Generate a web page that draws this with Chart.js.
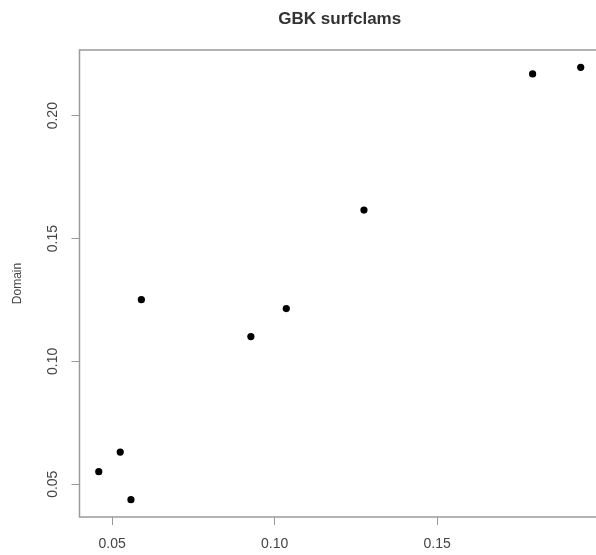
<!DOCTYPE html>
<html>
<head>
<meta charset="utf-8">
<script src="https://cdn.jsdelivr.net/npm/chart.js@4"></script>
<style>
  html, body { margin: 0; padding: 0; background: #fff; overflow: hidden; }
  #wrap { width: 596px; height: 555px; overflow: hidden; }
  canvas { display: block; }
</style>
</head>
<body>
<div id="wrap"><canvas id="c" width="620" height="555"></canvas></div>
<script>
// Survey comparison for Georges Bank surfclams
const xValues = [0.0459, 0.0525, 0.0558, 0.0590, 0.0927, 0.1036, 0.1275, 0.1794, 0.1942];
const yValues = [0.0551, 0.0631, 0.0437, 0.1251, 0.1101, 0.1215, 0.1616, 0.2170, 0.2197];
const xTickValues = [0.05, 0.10, 0.15];
const yTickValues = [0.05, 0.10, 0.15, 0.20];
const titleText = 'GBK surfclams';
const yAxisLabel = 'Domain';

// axis limits padded by 4% of the data range on each side
function paddedRange(vals) {
  const lo = Math.min(...vals), hi = Math.max(...vals);
  const pad = (hi - lo) * 0.04;
  return [lo - pad, hi + pad];
}
const [xMin, xMax] = paddedRange(xValues);
const [yMin, yMax] = paddedRange(yValues);

const points = xValues.map((x, i) => ({ x: x, y: yValues[i] }));

const FONT = '"Liberation Sans", Arial, Helvetica, sans-serif';
const BOX = '#9a9a9a';
const TEXT = '#444';

const framePlugin = {
  id: 'frame',
  afterDraw(chart) {
    const { ctx, chartArea: a } = chart;
    ctx.save();
    // plot box
    ctx.strokeStyle = BOX;
    ctx.lineWidth = 1.5;
    ctx.strokeRect(a.left, a.top, a.right - a.left, a.bottom - a.top);
    // rotated y tick labels
    const ys = chart.scales.y;
    ctx.fillStyle = TEXT;
    ctx.font = '14px ' + FONT;
    ctx.textAlign = 'center';
    ctx.textBaseline = 'middle';
    ys.ticks.forEach(t => {
      const py = ys.getPixelForValue(t.value);
      ctx.save();
      ctx.translate(53, py);
      ctx.rotate(-Math.PI / 2);
      ctx.fillText(t.value.toFixed(2), 0, 0);
      ctx.restore();
    });
    // main title centred over the plot region
    ctx.fillStyle = '#333';
    ctx.font = 'bold 17px ' + FONT;
    ctx.fillText(titleText, (a.left + a.right) / 2, 19);
    ctx.restore();
  }
};

new Chart(document.getElementById('c'), {
  type: 'scatter',
  data: {
    datasets: [{
      data: points,
      backgroundColor: '#000',
      borderColor: '#000',
      pointRadius: 3.6,
      pointHoverRadius: 3.6,
      borderWidth: 0
    }]
  },
  options: {
    responsive: false,
    animation: false,
    devicePixelRatio: 1,
    layout: { padding: { top: 50, right: 20, left: 0, bottom: 0 } },
    plugins: { legend: { display: false }, tooltip: { enabled: false }, title: { display: false } },
    scales: {
      x: {
        type: 'linear',
        min: xMin,
        max: xMax,
        afterBuildTicks: s => { s.ticks = xTickValues.map(v => ({ value: v })); },
        afterFit: s => { s.height = 38; },
        grid: { drawOnChartArea: false, drawTicks: true, tickLength: 8, color: BOX, lineWidth: 1 },
        border: { display: false },
        ticks: {
          padding: 11,
          color: TEXT,
          font: { family: FONT, size: 14 },
          maxRotation: 0,
          minRotation: 0,
          callback: v => Number(v).toFixed(2)
        }
      },
      y: {
        type: 'linear',
        min: yMin,
        max: yMax,
        afterBuildTicks: s => { s.ticks = yTickValues.map(v => ({ value: v })); },
        afterFit: s => { s.width = 79.5; },
        grid: { drawOnChartArea: false, drawTicks: true, tickLength: 8, color: BOX, lineWidth: 1 },
        border: { display: false },
        ticks: { display: false },
        title: {
          display: true,
          text: yAxisLabel,
          color: TEXT,
          font: { family: FONT, size: 12 },
          padding: { top: 10, bottom: 0 }
        }
      }
    }
  },
  plugins: [framePlugin]
});
</script>
</body>
</html>
